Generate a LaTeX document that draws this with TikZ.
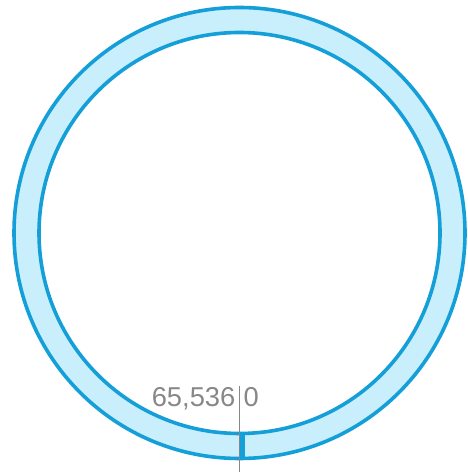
\documentclass[tikz,border=0pt]{standalone}
\usepackage{fontspec}
\setmainfont{Liberation Sans}
\definecolor{ringblue}{HTML}{149FD9}
\definecolor{ringfill}{HTML}{C9EEFC}
\definecolor{labelgray}{HTML}{878787}
\tikzset{
  ringline/.style={draw=ringblue, line width=3.6pt},
  ringband/.style={draw=ringfill, line width=25pt},
  lbl/.style={text=labelgray, inner sep=0pt, font=\fontsize{27.3pt}{30pt}\selectfont},
  tick/.style={draw=labelgray, line width=1.3pt}
}
\begin{document}
\begin{tikzpicture}
\useasboundingbox (0pt,0pt) rectangle (467pt,473pt);
\coordinate (c) at (239.5pt,240pt);
\draw[ringband] (c) circle[radius=213pt];
\draw[ringline] (c) circle[radius=225.5pt];
\draw[ringline] (c) circle[radius=200.5pt];
\coordinate (m1) at (242.6pt,39pt);
\coordinate (m2) at (242.6pt,14.5pt);
\draw[ringline, line width=5.5pt] (m1) -- (m2);
\coordinate (t1) at (239.3pt,87pt);
\coordinate (t2) at (239.3pt,1pt);
\draw[tick] (t1) -- (t2);
\node[lbl, anchor=base east] (max) at (235.5pt,66.5pt) {65,536};
\node[lbl, anchor=base west] (zero) at (243.5pt,66.5pt) {0};
\end{tikzpicture}
\end{document}
